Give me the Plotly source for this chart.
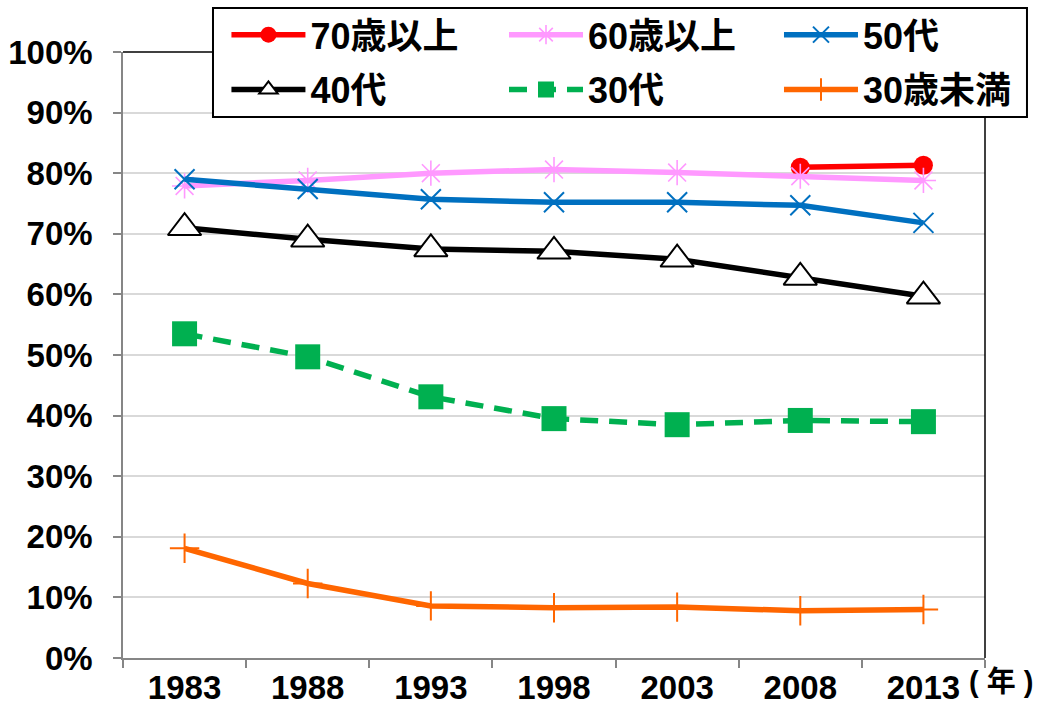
import plotly.graph_objects as go

# Survey years (category axis)
years = ["1983", "1988", "1993", "1998", "2003", "2008", "2013"]

# Share by age group of household head, percent
age70_plus = [None, None, None, None, None, 81.0, 81.3]
age60_plus = [77.9, 78.8, 80.0, 80.6, 80.1, 79.5, 78.8]
age50s = [79.0, 77.4, 75.7, 75.2, 75.2, 74.7, 71.8]
age40s = [71.0, 69.1, 67.5, 67.1, 65.8, 62.8, 59.7]
age30s = [53.5, 49.7, 43.1, 39.5, 38.5, 39.2, 39.0]
under30 = [18.1, 12.3, 8.6, 8.3, 8.4, 7.8, 8.0]

y_ticks = list(range(0, 101, 10))

LATIN = "Liberation Sans, Arial, sans-serif"
MIXED = "Liberation Sans, Noto Sans CJK JP, sans-serif"

fig = go.Figure()


def add_series(name, values, color, symbol, msize, legend, dash="solid",
               fill=None, mline=None, mlw=0):
    fig.add_trace(go.Scatter(
        x=years, y=values, name=name, mode="lines+markers",
        legend=legend, legendgroup=name,
        line=dict(color=color, width=5.5, dash=dash),
        marker=dict(symbol=symbol, size=msize,
                    color=fill if fill is not None else color,
                    line=dict(color=mline if mline else color, width=mlw)),
        connectgaps=False,
    ))


add_series("70歳以上", age70_plus, "#FF0000", "circle", 19, "legend")
add_series("60歳以上", age60_plus, "#FF99FF", "asterisk-open", 21, "legend2",
           mlw=1.6)
add_series("50代", age50s, "#0070C0", "x-thin-open", 20, "legend3", mlw=2)
add_series("40代", age40s, "#000000", "triangle-up", 29, "legend",
           fill="#FFFFFF", mline="#000000", mlw=2)
add_series("30代", age30s, "#00B050", "square", 25, "legend2",
           dash="18px,11px")
add_series("30歳未満", under30, "#FF6600", "cross-thin-open", 21, "legend3",
           mlw=2)

legend_common = dict(
    orientation="v", yanchor="top", xanchor="left",
    bgcolor="rgba(0,0,0,0)", borderwidth=0,
    font=dict(family=MIXED, size=36, color="#000000", weight="bold"),
    itemwidth=74, tracegroupgap=5, itemclick=False, itemdoubleclick=False,
)

fig.update_layout(
    width=1039, height=705,
    margin=dict(l=123, r=54, t=52, b=47, autoexpand=False),
    paper_bgcolor="#FFFFFF", plot_bgcolor="#FFFFFF",
    showlegend=True,
    legend=dict(x=0.120, y=1.078, **legend_common),
    legend2=dict(x=0.442, y=1.078, **legend_common),
    legend3=dict(x=0.761, y=1.078, **legend_common),
    xaxis=dict(
        type="category", range=[-0.5, 6.5], automargin=False,
        tickson="boundaries", ticks="outside", ticklen=8,
        tickcolor="#868686", tickwidth=1.5,
        showline=True, linecolor="#868686", linewidth=1.5,
        showgrid=False, zeroline=False,
        tickfont=dict(family=LATIN, size=33, color="#000000", weight="bold"),
        ticklabelstandoff=0,
    ),
    yaxis=dict(
        range=[0, 100], tickvals=y_ticks, automargin=False,
        ticktext=[f"{v}%" for v in y_ticks],
        ticks="outside", ticklen=8, tickcolor="#868686", tickwidth=1.5,
        showline=True, linecolor="#868686", linewidth=1.5,
        showgrid=True, gridcolor="#D9D9D9", gridwidth=1.5, zeroline=False,
        tickfont=dict(family=LATIN, size=33, color="#000000", weight="bold"),
        ticklabelstandoff=14,
    ),
    shapes=[
        # top and right edges of the plot frame
        dict(type="line", xref="paper", yref="paper", x0=0, x1=1, y0=1, y1=1,
             line=dict(color="#000000", width=1.5), layer="above"),
        dict(type="line", xref="paper", yref="paper", x0=1, x1=1, y0=0, y1=1,
             line=dict(color="#000000", width=1.5), layer="above"),
        # legend frame
        dict(type="rect", xref="paper", yref="paper",
             x0=0.1044, x1=1.0487, y0=0.8927, y1=1.0726,
             line=dict(color="#000000", width=2), fillcolor="#FFFFFF",
             layer="above"),
    ],
    annotations=[
        dict(text="( 年 )", xref="paper", yref="paper", x=0.9795, y=-0.010,
             xanchor="left", yanchor="top", showarrow=False,
             font=dict(family=MIXED, size=29, color="#000000", weight="bold")),
    ],
)

fig.write_html("out.html")
